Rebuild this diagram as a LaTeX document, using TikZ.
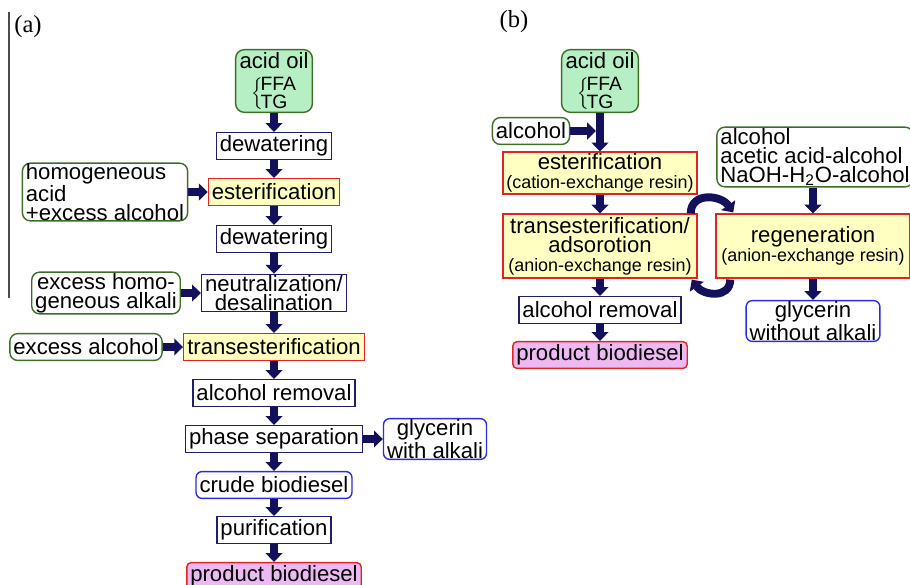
\documentclass[tikz,border=0pt]{standalone}
\usepackage{fontspec}
\setmainfont{Liberation Sans}
\newfontfamily\panelfont{Liberation Serif}
\usetikzlibrary{arrows.meta,calc}

\definecolor{boxnavy}{HTML}{1F1F6B}
\definecolor{arrnavy}{HTML}{13105C}
\definecolor{feedgreen}{HTML}{3C6E28}
\definecolor{oilgreen}{HTML}{B6EFC3}
\definecolor{reactred}{HTML}{E02424}
\definecolor{reactyellow}{HTML}{FFFFC2}
\definecolor{prodpink}{HTML}{EDB9F2}
\definecolor{outblue}{HTML}{2B2BE0}
\newcommand{\resintext}[1]{{\fontsize{10.2}{10.8}\selectfont #1}}
\newcommand{\oilsub}{\fontsize{11}{10.8}\selectfont}
\newcommand{\oiltext}{acid oil\\[1.5pt]\hspace*{7pt}\rlap{\smash{\raisebox{-4.6pt}{$\left\{\vcenter{\hbox{\rule{0pt}{14pt}}}\right.$}}}\hspace*{5pt}{\oilsub FFA}\\[-0.4pt]\hspace*{12pt}{\oilsub TG}}

\begin{document}
\begin{tikzpicture}[x=0.02cm, y=-0.02cm, font=\fontsize{12.6}{10.8}\selectfont]
    \useasboundingbox (0,0) rectangle (910,585);
    \begin{scope}[all/.style={draw=boxnavy, fill=white, line width=0.8pt, inner xsep=2pt, inner ysep=0.6pt, minimum height=15.3pt, align=center},
        oil/.style={all, draw=feedgreen, fill=oilgreen, rounded corners=5pt, minimum width=43.7pt, minimum height=35.7pt, inner ysep=0pt, align=left},
        feed/.style={all, draw=feedgreen, rounded corners=4.5pt},
        react/.style={all, draw=reactred, fill=reactyellow},
        resin/.style={react, minimum width=110.5pt},
        prod/.style={all, draw=reactred, fill=prodpink, rounded corners=2.5pt},
        side/.style={all, draw=outblue, rounded corners=3.5pt},
        arr/.style={color=arrnavy, line width=4.5pt, -{Triangle[width=9.5pt,length=5pt]}}]
        \draw[black!70, line width=0.6pt] (9,12) -- (9,298);
        \node[font=\panelfont\fontsize{14}{14}\selectfont] (la) at (28,27) {(a)};
        \node[font=\panelfont\fontsize{14}{14}\selectfont] (lb) at (514,22) {(b)};

        \node[oil] (a0) at (274,81) {\oiltext};
        \node[all] (a1) at (274,146) {dewatering};
        \node[react] (a2) at (274,192) {esterification};
        \node[all] (a3) at (274,239) {dewatering};
        \node[all] (a4) at (274,293) {neutralization/\\desalination};
        \node[react] (a5) at (274,347) {transesterification};
        \node[all] (a6) at (274,393) {alcohol removal};
        \node[all] (a7) at (274,439) {phase separation};
        \node[side] (a8) at (274,485) {crude biodiesel};
        \node[all] (a9) at (274,530) {purification};
        \node[prod] (a10) at (274,576) {product biodiesel};
        \node[feed, align=left, inner ysep=0pt] (fa1) at (105,192) {homogeneous\\acid\\+excess alcohol};
        \node[feed] (fa2) at (106,293) {excess homo-\\geneous alkali};
        \node[feed] (fa3) at (86,347) {excess alcohol};
        \node[side] (ga) at (435,439) {glycerin\\with alkali};

        \node[oil] (b0) at (600,81) {\oiltext};
        \node[feed] (ib1) at (531,131) {alcohol};
        \node[resin, minimum height=23.8pt] (b1) at (600,173) {esterification\\\resintext{(cation-exchange resin)}};
        \node[resin, minimum height=36.3pt] (b2) at (600,246) {transesterification/\\adsorotion\\\resintext{(anion-exchange resin)}};
        \node[all] (b3) at (600,310) {alcohol removal};
        \node[prod] (b4) at (600,355) {product biodiesel};
        \node[resin, minimum height=36.3pt] (b5) at (813,246) {regeneration\\\resintext{(anion-exchange resin)}};
        \node[feed, align=left] (ib2) at (815,157) {alcohol\\acetic acid-alcohol\\NaOH-H\textsubscript{2}O-alcohol};
        \node[side] (gb) at (813,321) {glycerin\\without alkali};

        \path[arr] (a0) edge (a1);
        \path[arr] (a1) edge (a2);
        \path[arr] (a2) edge (a3);
        \path[arr] (a3) edge (a4);
        \path[arr] (a4) edge (a5);
        \path[arr] (a5) edge (a6);
        \path[arr] (a6) edge (a7);
        \path[arr] (a7) edge (a8);
        \path[arr] (a8) edge (a9);
        \path[arr] (a9) edge (a10);
        \path[arr] (fa1) edge (a2);
        \path[arr] (fa2) edge (a4);
        \path[arr] (fa3) edge (a5);
        \path[arr] (a7) edge (ga);

        \path[arr] (b0) edge (b1);
        \path[arr, shorten >=2.3pt] (ib1) edge (ib1 -| b0);
        \path[arr] (b1) edge (b2);
        \path[arr] (b2) edge (b3);
        \path[arr] (b3) edge (b4);
        \path[arr] (ib2.south -| b5) edge (b5);
        \path[arr] (b5) edge (gb);
        \draw[arr] ($(b2.north east)+(-7,0)$) to[out=90, in=125, looseness=1.3] ($(b5.north west)+(18,-1)$);
        \draw[arr] ($(b5.south west)+(15,1)$) to[out=-90, in=-55, looseness=1.3] ($(b2.south east)+(-6,1)$);
    \end{scope}
\end{tikzpicture}
\end{document}
